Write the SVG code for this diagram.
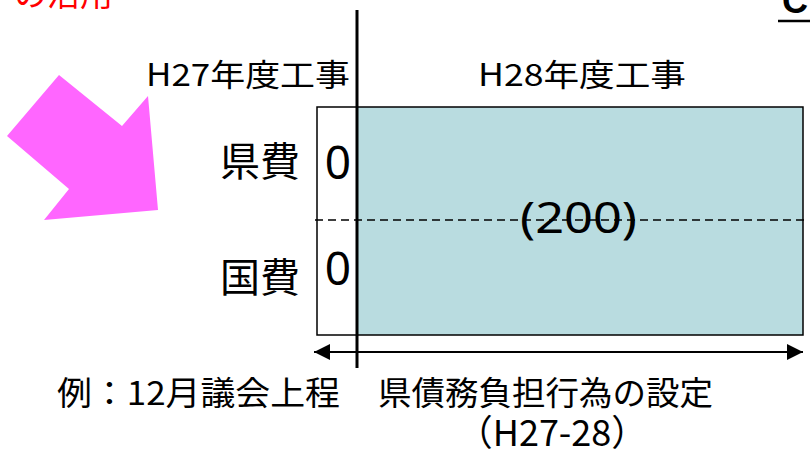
<svg xmlns="http://www.w3.org/2000/svg" width="810" height="454" viewBox="0 0 810 454">
<defs>
<style>
text{font-family:"Noto Sans CJK JP","Noto Sans",sans-serif;fill:#000}
.lbl{font-size:40px}
.hdr{font-size:31px}
.bot{font-size:33px}
.box{stroke:#000;stroke-width:1.5}
</style>
<marker id="ah" viewBox="0 0 10 10" refX="10" refY="5" markerWidth="16" markerHeight="16" markerUnits="userSpaceOnUse" orient="auto-start-reverse">
<path d="M0,0 L10,5 L0,10 Z" fill="#000"/>
</marker>
</defs>
<rect width="810" height="454" fill="#fff"/>
<text x="14" y="6" style="font-size:33px;fill:#FF0000">の活用</text>
<text x="782" y="13" style="font-size:36px;font-weight:bold;font-family:'Liberation Sans',sans-serif">C</text>
<line x1="778" y1="21" x2="810" y2="21" stroke="#000" stroke-width="2.5"/>
<polygon id="pink-arrow" points="59,75 122,126 148,96 158,210 44,220 69,189 7,136" fill="#FF66FF"/>
<g id="headers">
<text class="hdr" x="146" y="86" textLength="204" lengthAdjust="spacingAndGlyphs">H27年度工事</text>
<text class="hdr" x="478" y="86" textLength="208" lengthAdjust="spacingAndGlyphs">H28年度工事</text>
</g>
<g id="box-h27">
<rect x="317" y="107" width="40" height="228" fill="#fff" class="box"/>
<text x="338" y="179" text-anchor="middle" style="font-size:46px;font-family:'Noto Sans',sans-serif">0</text>
<text x="338" y="285" text-anchor="middle" style="font-size:46px;font-family:'Noto Sans',sans-serif">0</text>
</g>
<g id="box-h28">
<rect x="357" y="107" width="446" height="228" fill="#B9DCE0" class="box"/>
</g>
<g id="row-labels">
<text class="lbl" x="260" y="176" text-anchor="middle">県費</text>
<text class="lbl" x="260" y="292" text-anchor="middle">国費</text>
</g>
<g id="connectors">
<line x1="315" y1="220" x2="805" y2="220" stroke="#000" stroke-width="1.5" stroke-dasharray="8,5"/>
<line x1="357" y1="10" x2="357" y2="368" stroke="#000" stroke-width="3"/>
<line x1="314" y1="352" x2="803" y2="352" stroke="#000" stroke-width="2" marker-start="url(#ah)" marker-end="url(#ah)"/>
</g>
<text x="520" y="233" textLength="117" lengthAdjust="spacingAndGlyphs" style="font-size:44px;font-family:'Noto Sans',sans-serif">(200)</text>
<g id="bottom">
<text class="bot" x="57" y="405" textLength="283" lengthAdjust="spacingAndGlyphs">例：12月議会上程</text>
<text class="bot" x="378" y="405" textLength="335" lengthAdjust="spacingAndGlyphs">県債務負担行為の設定</text>
<text x="552" y="446" text-anchor="middle" style="font-size:36px">（H27-28）</text>
</g>
</svg>
